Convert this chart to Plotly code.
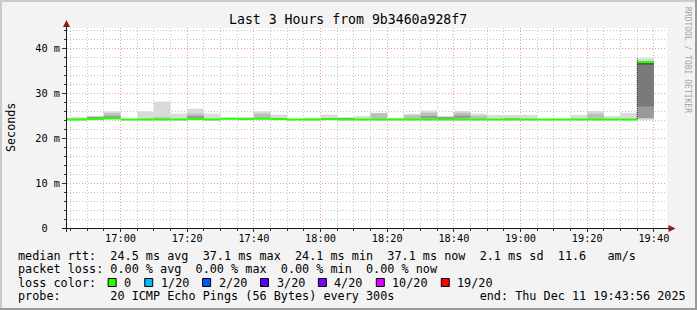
import plotly.graph_objects as go

# ---------------- data ----------------
DAY = "2025-12-11"
bin_start = ["16:40", "16:45", "16:50", "16:55", "17:00", "17:05", "17:10", "17:15", "17:20", "17:25",
             "17:30", "17:35", "17:40", "17:45", "17:50", "17:55", "18:00", "18:05", "18:10", "18:15",
             "18:20", "18:25", "18:30", "18:35", "18:40", "18:45", "18:50", "18:55", "19:00", "19:05",
             "19:10", "19:15", "19:20", "19:25", "19:30", "19:35"]
median_ms = [24.1, 24.1, 24.2, 24.4, 24.1, 24.1, 24.1, 24.1, 24.2, 24.1,
             24.3, 24.2, 24.3, 24.2, 24.1, 24.1, 24.2, 24.1, 24.1, 24.1,
             24.1, 24.1, 24.1, 24.1, 24.1, 24.1, 24.1, 24.1, 24.1, 24.1,
             24.1, 24.1, 24.1, 24.1, 24.1, 36.9]
smoke_min = [24.0, 24.0, 24.0, 24.0, 24.0, 24.0, 24.0, 24.0, 24.0, 24.0,
             24.0, 24.0, 24.0, 24.0, 24.0, 24.0, 24.0, 24.0, 24.0, 24.0,
             24.0, 24.0, 24.0, 24.0, 24.0, 24.0, 24.0, 24.0, 24.0, 24.0,
             24.0, 24.0, 24.0, 24.0, 24.0, 24.0]
smoke_max = [24.6, 24.7, 24.9, 25.9, 24.2, 25.9, 28.1, 25.4, 26.5, 25.4,
             24.3, 24.7, 25.9, 25.2, 24.2, 24.5, 25.2, 24.5, 24.9, 25.6,
             24.5, 25.4, 26.1, 24.9, 26.0, 25.4, 25.1, 25.1, 25.1, 24.2,
             24.2, 25.1, 26.0, 24.9, 25.6, 37.7]
N = None
mid_lo = [N, N, N, 24.5, N, N, 24.2, N, 24.4, N,
          N, N, 24.4, N, N, N, N, N, N, 24.3,
          N, 24.3, 24.3, N, 24.3, 24.3, N, 24.2, N, N,
          N, N, 24.3, N, N, N]
mid_hi = [N, N, N, 25.5, N, N, 24.6, N, 25.4, N,
          N, N, 25.4, N, N, N, N, N, N, 25.5,
          N, 25.0, 25.6, N, 25.6, 24.9, N, 24.5, N, N,
          N, N, 25.4, N, N, N]
dark_lo = [N, N, 24.3, 24.5, N, N, N, N, 24.5, N,
           N, N, N, N, N, N, N, 24.2, N, N,
           N, N, 24.4, 24.3, 24.4, N, N, N, N, N,
           N, N, N, N, N, 24.4]
dark_hi = [N, N, 24.7, 24.9, N, N, N, N, 24.8, N,
           N, N, N, N, N, N, N, 24.5, N, N,
           N, N, 24.9, 24.6, 25.0, N, N, N, N, N,
           N, N, N, N, N, 36.7]
deep_lo = [N] * 35 + [27.0]
deep_hi = [N] * 35 + [36.2]
core_lo = [N] * 35 + [36.2]
core_hi = [N] * 35 + [36.7]
loss_per_bin = [0] * 36

tick_times = ["17:00", "17:20", "17:40", "18:00", "18:20", "18:40", "19:00", "19:20", "19:40"]
tick_labels = ["17:00", "17:20", "17:40", "18:00", "18:20", "18:40", "19:00", "19:20", "19:40"]
y_ticks = [0, 10, 20, 30, 40]
y_labels = ["0  ", "10 m", "20 m", "30 m", "40 m"]

loss_labels = ["0", "1/20", "2/20", "3/20", "4/20", "10/20", "19/20"]
loss_colors = ["#26ff00", "#00b8ff", "#0059ff", "#5e00ff", "#7e00ff", "#dd00ff", "#ff0000"]

title = "Last 3 Hours from 9b3460a928f7"
legend_lines = [
    "median rtt:  24.5 ms avg  37.1 ms max  24.1 ms min  37.1 ms now  2.1 ms sd  11.6   am/s",
    "packet loss: 0.00 % avg  0.00 % max  0.00 % min  0.00 % now",
    "loss color:",
    "probe:       20 ICMP Echo Pings (56 Bytes) every 300s            end: Thu Dec 11 19:43:56 2025",
]

# ---------------- style ----------------
MONO = "DejaVu Sans Mono"
BG = "#f3f3f3"
GRID = "#c4c4c4"
MGRID = "#f29a9a"
ARROW = "#8b1a1a"
L, T, W, H = 67, 28, 600, 200
FIG_W, FIG_H = 697, 310


def fx(x):
    return (x - L) / W


def fy(y):
    return (T + H - y) / H


def nb(s):
    return s.replace(" ", "\u00a0")


xs = [f"{DAY} {s}:00" for s in bin_start]
fig = go.Figure()


def band(lo, hi, color):
    base = [l if (l is not None and h is not None) else None for l, h in zip(lo, hi)]
    ht = [(h - l) if (l is not None and h is not None) else None for l, h in zip(lo, hi)]
    fig.add_trace(go.Bar(x=xs, y=ht, base=base, width=300000, offset=0,
                         marker=dict(color=color, line=dict(width=0)), hoverinfo="skip"))


band(smoke_min, smoke_max, "#dadada")
band(mid_lo, mid_hi, "#bdbdbd")
band(dark_lo, dark_hi, "#999999")
band(deep_lo, deep_hi, "#7a7a7a")
band(core_lo, core_hi, "#5e5e5e")

# median line, coloured by loss
med_half = 0.23
fig.add_trace(go.Bar(x=xs, y=[2 * med_half] * len(xs), base=[m - med_half for m in median_ms],
                     width=300000, offset=0,
                     marker=dict(color=[loss_colors[0] if l == 0 else loss_colors[-1] for l in loss_per_bin],
                                 line=dict(width=0)), hoverinfo="skip"))

# dotted edge where the latency jumps (last bin)
fig.add_trace(go.Scatter(x=[xs[-1], xs[-1]], y=[smoke_min[-1] + 0.2, smoke_max[-1]], mode="lines",
                         line=dict(color="#222222", width=1, dash="1px,1px"), hoverinfo="skip"))

fig.update_layout(
    width=FIG_W, height=FIG_H, autosize=False,
    margin=dict(l=L, r=FIG_W - L - W, t=T, b=FIG_H - T - H, pad=0),
    paper_bgcolor=BG, plot_bgcolor="#ffffff",
    barmode="overlay", showlegend=False,
    font=dict(family=MONO, color="#000000"),
)
fig.update_xaxes(
    type="date", range=[f"{DAY} 16:43:56", f"{DAY} 19:43:56"],
    tickmode="array", tickvals=[f"{DAY} {s}:00" for s in tick_times], ticktext=tick_labels,
    showgrid=True, gridcolor=MGRID, griddash="1px,2px", gridwidth=1,
    ticks="outside", ticklen=3, tickcolor="#333333", tickwidth=1, ticklabelstandoff=-2,
    tickfont=dict(family=MONO, size=10.27, color="#000000"),
    minor=dict(tickmode="linear", dtick=300000, tick0=f"{DAY} 16:45:00", showgrid=True,
               gridcolor=GRID, griddash="1px,2px", gridwidth=1,
               ticks="outside", ticklen=2, tickcolor="#333333"),
    showline=False, zeroline=False, fixedrange=True,
)
fig.update_yaxes(
    range=[0, 44.444],
    tickmode="array", tickvals=y_ticks, ticktext=[nb(s) for s in y_labels],
    showgrid=True, gridcolor=MGRID, griddash="1px,2px", gridwidth=1,
    ticks="outside", ticklen=4, tickcolor="#333333", tickwidth=1,
    tickfont=dict(family=MONO, size=10.27, color="#000000"),
    minor=dict(tickmode="linear", dtick=2, tick0=0, showgrid=True,
               gridcolor=GRID, griddash="1px,2px", gridwidth=1,
               ticks="outside", ticklen=2, tickcolor="#333333"),
    showline=False, zeroline=False, fixedrange=True,
)

shapes = []
# axes with arrows
shapes.append(dict(type="line", xref="paper", yref="paper", x0=fx(62), x1=fx(673), y0=fy(228.5), y1=fy(228.5),
                   line=dict(color="#1a1a1a", width=1), layer="above"))
shapes.append(dict(type="line", xref="paper", yref="paper", x0=fx(66.5), x1=fx(66.5), y0=fy(232), y1=fy(22),
                   line=dict(color="#1a1a1a", width=1), layer="above"))
shapes.append(dict(type="path", xref="paper", yref="paper",
                   path=f"M {fx(675.5)},{fy(228.5)} L {fx(668.5)},{fy(225)} L {fx(668.5)},{fy(232)} Z",
                   fillcolor=ARROW, line=dict(width=0), layer="above"))
shapes.append(dict(type="path", xref="paper", yref="paper",
                   path=f"M {fx(66.5)},{fy(20)} L {fx(63)},{fy(27)} L {fx(70)},{fy(27)} Z",
                   fillcolor=ARROW, line=dict(width=0), layer="above"))
# bevelled frame
for x0, x1, y0, y1, c in [(0, FIG_W, 0, 2, "#cbcbcb"), (0, 2, 0, FIG_H, "#cbcbcb"),
                          (0, FIG_W, FIG_H - 2, FIG_H, "#999999"), (FIG_W - 2, FIG_W, 0, FIG_H, "#999999")]:
    shapes.append(dict(type="rect", xref="paper", yref="paper", x0=fx(x0), x1=fx(x1), y0=fy(y1), y1=fy(y0),
                       fillcolor=c, line=dict(width=0), layer="above"))

annotations = []
annotations.append(dict(text=nb(title), x=fx(348), y=fy(20), xref="paper", yref="paper",
                        xanchor="center", yanchor="middle", showarrow=False,
                        font=dict(family=MONO, size=13.2, color="#000000")))
annotations.append(dict(text="Seconds", x=fx(10.5), y=fy(127.5), xref="paper", yref="paper",
                        xanchor="center", yanchor="middle", showarrow=False, textangle=-90,
                        font=dict(family=MONO, size=11.73, color="#000000")))
annotations.append(dict(text=nb("RRDTOOL / TOBI OETIKER"), x=fx(688), y=fy(60), xref="paper", yref="paper",
                        xanchor="center", yanchor="middle", showarrow=False, textangle=90,
                        font=dict(family=MONO, size=8, color="#a4a4a4")))

LEG_FS = 11.8
CW = 0.602 * LEG_FS
LX = 16
line_y = [255.5, 269, 282.5, 296]
for s, yy in zip(legend_lines, line_y):
    annotations.append(dict(text=nb(s), x=fx(LX), y=fy(yy), xref="paper", yref="paper",
                            xanchor="left", yanchor="middle", showarrow=False,
                            font=dict(family=MONO, size=LEG_FS, color="#000000")))

pos = 12.9
for lab, col in zip(loss_labels, loss_colors):
    sx = LX + pos * CW
    shapes.append(dict(type="rect", xref="paper", yref="paper",
                       x0=fx(sx + 0.5), x1=fx(sx + 8.5), y0=fy(286.5), y1=fy(278.5),
                       fillcolor=col, line=dict(color="#000000", width=1), layer="above"))
    lpos = pos + 2.05
    annotations.append(dict(text=nb(lab), x=fx(LX + lpos * CW), y=fy(line_y[2]), xref="paper", yref="paper",
                            xanchor="left", yanchor="middle", showarrow=False,
                            font=dict(family=MONO, size=LEG_FS, color="#000000")))
    pos = lpos + len(lab) + 2.1

fig.update_layout(shapes=shapes, annotations=annotations)
fig.write_html("out.html")
